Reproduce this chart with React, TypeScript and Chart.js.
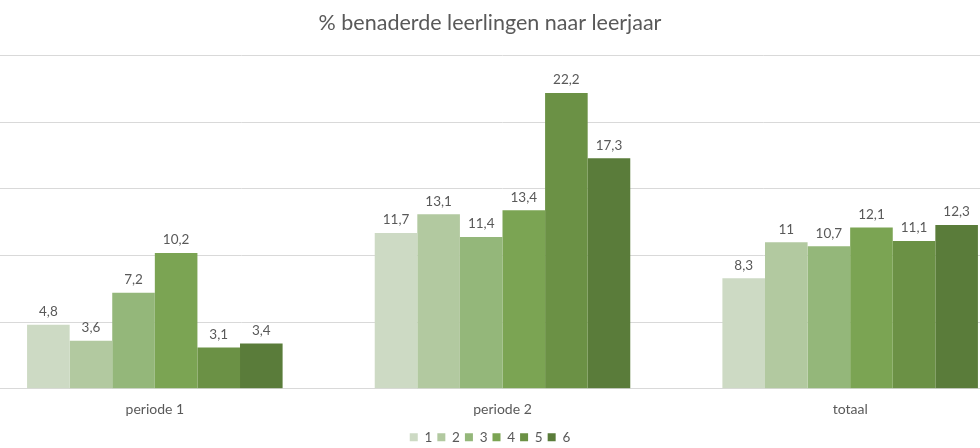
import React, { useEffect, useRef } from "react";
import { Chart, registerables } from "chart.js";

Chart.register(...registerables);

const categories = ["periode 1", "periode 2", "totaal"];
const seriesNames = ["1", "2", "3", "4", "5", "6"];
const leerjaar1 = [4.8, 11.7, 8.3];
const leerjaar2 = [3.6, 13.1, 11];
const leerjaar3 = [7.2, 11.4, 10.7];
const leerjaar4 = [10.2, 13.4, 12.1];
const leerjaar5 = [3.1, 22.2, 11.1];
const leerjaar6 = [3.4, 17.3, 12.3];
const seriesValues = [leerjaar1, leerjaar2, leerjaar3, leerjaar4, leerjaar5, leerjaar6];
const colors = ["#cddac4", "#b2c9a0", "#94b77a", "#7ba453", "#6b9145", "#5a7c3a"];

const FONT = "Lato, 'Open Sans', sans-serif";

const valueLabels = {
  id: "valueLabels",
  afterDatasetsDraw(chart: any) {
    const ctx = chart.ctx;
    ctx.save();
    ctx.font = `13.5px ${FONT}`;
    ctx.fillStyle = "#595959";
    ctx.textAlign = "center";
    ctx.textBaseline = "middle";
    chart.data.datasets.forEach((ds: any, i: number) => {
      const meta = chart.getDatasetMeta(i);
      meta.data.forEach((bar: any, j: number) => {
        const v = ds.data[j];
        ctx.fillText(String(v).replace(".", ","), bar.x, bar.y - 13);
      });
    });
    ctx.restore();
  },
};

export default function App() {
  const ref = useRef<HTMLCanvasElement>(null);
  useEffect(() => {
    if (!ref.current) return;
    const chart = new Chart(ref.current, {
      type: "bar",
      data: {
        labels: categories,
        datasets: seriesNames.map((n, i) => ({
          label: n,
          data: seriesValues[i],
          backgroundColor: colors[i],
          borderWidth: 0,
          barPercentage: 1,
          categoryPercentage: 0.735,
        })),
      },
      options: {
        animation: false,
        responsive: false,
        maintainAspectRatio: false,
        layout: { padding: { left: 0, right: 0, top: 0, bottom: -6 } },
        plugins: {
          title: {
            display: true,
            text: "% benaderde leerlingen naar leerjaar",
            color: "#595959",
            font: { family: FONT, size: 21.5, weight: "normal" },
            padding: { top: 10, bottom: 20 },
          },
          legend: {
            position: "bottom",
            labels: {
              boxWidth: 8,
              boxHeight: 8,
              padding: 5,
              color: "#595959",
              font: { family: FONT, size: 13.5 },
            },
          },
          tooltip: { enabled: false },
        },
        scales: {
          x: {
            grid: { display: false, drawTicks: false },
            border: { display: true, color: "#d9d9d9", width: 1 },
            ticks: { color: "#595959", font: { family: FONT, size: 14 }, padding: 12 },
            afterFit: (scale: any) => {
              scale.height -= 4;
            },
          },
          y: {
            min: 0,
            max: 25,
            ticks: { display: false, stepSize: 5 },
            grid: { color: "#d9d9d9", drawTicks: false },
            border: { display: false },
            afterFit: (scale: any) => {
              scale.width = 25;
            },
          },
        },
      },
      plugins: [valueLabels],
    });
    return () => chart.destroy();
  }, []);
  return (
    <div style={{ position: "fixed", left: 0, top: 0, width: 980, height: 448, overflow: "hidden", background: "#fff" }}>
      <canvas
        ref={ref}
        width={1068}
        height={448}
        style={{ position: "absolute", left: -44, top: 0, width: 1068, height: 448 }}
      />
    </div>
  );
}
